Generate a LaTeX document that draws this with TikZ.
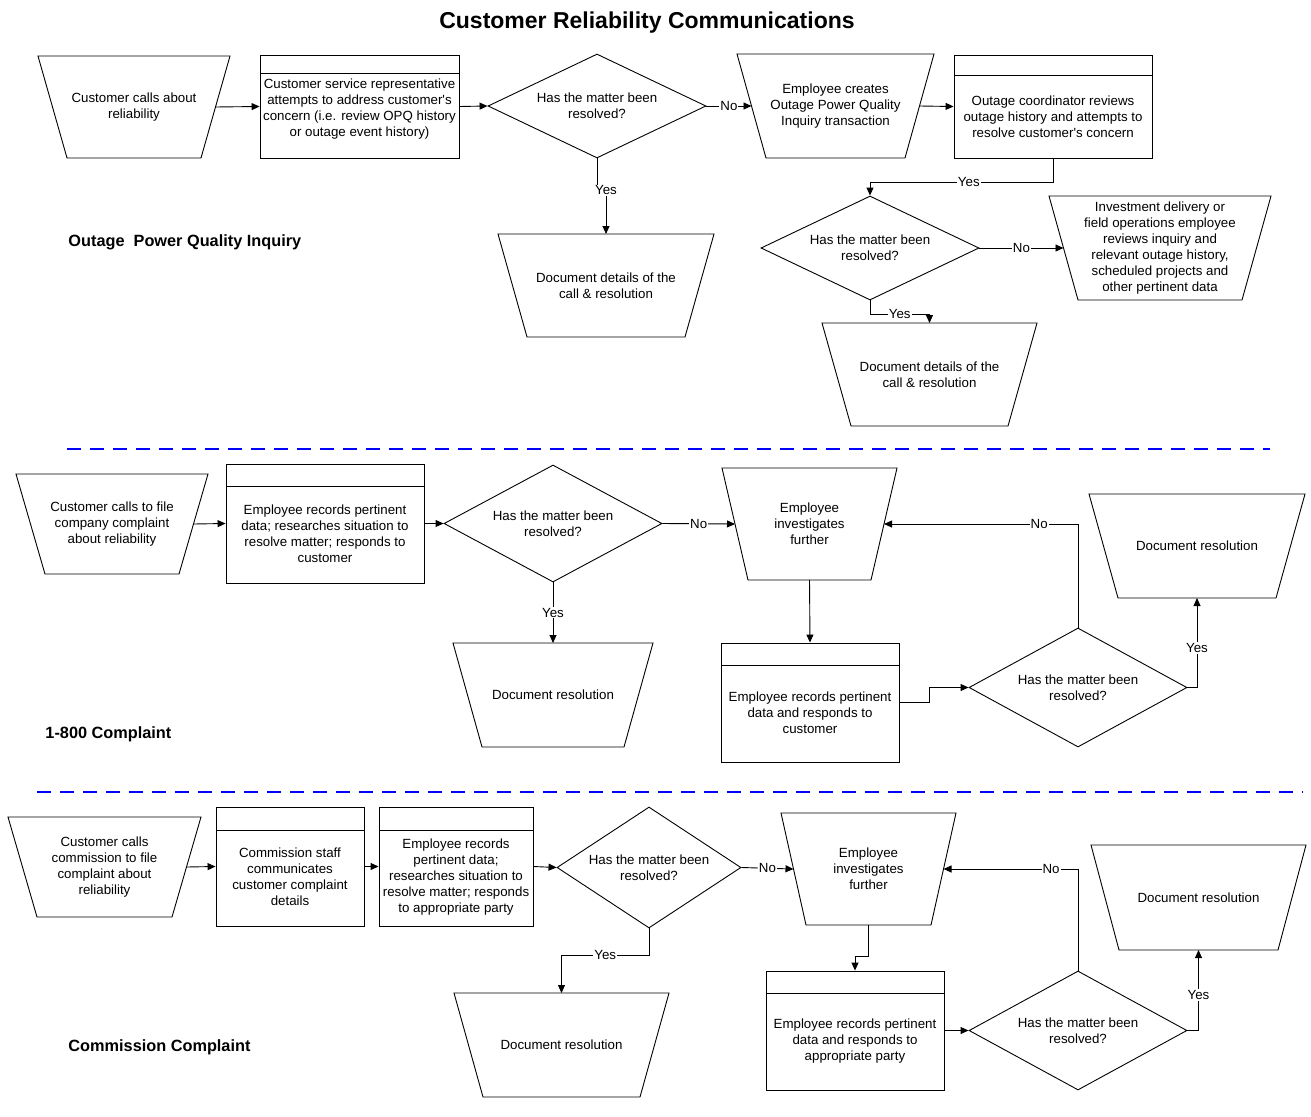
\documentclass[tikz,border=0pt]{standalone}
\usepackage{fontspec}
\setmainfont{Liberation Sans}[Ligatures=TeXOff]
\usetikzlibrary{shapes.geometric, arrows.meta}
\newcommand{\hdrstrut}{\rule{0pt}{30.5pt}} % pushes text below the header bar

\tikzset{
  base/.style={font=\fontsize{13.3}{16}\selectfont, align=center},
  % manual operation: node is the mid-height body, slanted sides drawn around it
  trap/.style={base, rectangle, inner sep=1pt, outer sep=0pt,
    append after command={\pgfextra{\draw ([xshift=-#1]\tikzlastnode.north west) -- ([xshift=#1]\tikzlastnode.north east) -- ([xshift=-#1]\tikzlastnode.south east) -- ([xshift=#1]\tikzlastnode.south west) -- cycle;}}},
  trap/.default=14.5pt,
  procbox/.style={base, draw, rectangle, inner sep=2pt,
    path picture={\draw ([yshift=-#1]path picture bounding box.north west) -- ([yshift=-#1]path picture bounding box.north east);}},
  procbox/.default=22pt,
  decision/.style={base, draw, diamond, aspect=2, inner sep=0pt},
  lbl/.style={base, fill=white, inner sep=1pt},
  arr/.style={-{Triangle[length=8pt,width=7pt]}},
  sectitle/.style={font=\fontsize{16.3}{20}\selectfont\bfseries, anchor=west, inner sep=0pt},
  divider/.style={blue, line width=2pt, dash pattern=on 14pt off 9pt},
}

\begin{document}
\begin{tikzpicture}[x=1pt, y=-1pt, line width=0.9pt]
  \useasboundingbox (0,0) rectangle (1311,1116);

  \node[font=\fontsize{23}{28}\selectfont\bfseries] (title) at (647,23) {Customer Reliability Communications};

  % Outage Power Quality Inquiry
  \node[trap, minimum width=163, minimum height=102] (t1) at (134,107) {Customer calls about\\reliability};
  \node[procbox=18pt, minimum width=199, minimum height=103] (r1) at (359.5,106.5) {\rule{0pt}{15.5pt}Customer service representative\\attempts to address customer's\\concern (i.e. review OPQ history\\or outage event history)};
  \node[decision, minimum width=218, minimum height=104] (d1) at (597,106) {Has the matter been\\resolved?};
  \node[trap, minimum width=168, minimum height=104] (t2) at (835.5,106) {Employee creates\\Outage Power Quality\\Inquiry transaction};
  \node[procbox=20pt, minimum width=198, minimum height=103] (r2) at (1053,106.5) {\hdrstrut Outage coordinator reviews\\outage history and attempts to\\resolve customer's concern};
  \node[trap, minimum width=187, minimum height=103] (t3) at (606,285.5) {Document details of the\\call \& resolution};
  \node[decision, minimum width=218, minimum height=104] (d2) at (870,248) {Has the matter been\\resolved?};
  \node[trap, minimum width=193, minimum height=104] (t4) at (1160,248) {Investment delivery or\\field operations employee\\reviews inquiry and\\relevant outage history,\\scheduled projects and\\other pertinent data};
  \node[trap, minimum width=186, minimum height=103] (t5) at (929.5,374.5) {Document details of the\\call \& resolution};
  \node[sectitle] (s1) at (68,242) {Outage\ \ Power Quality Inquiry};

  \draw[arr] (t1.east) -- (r1.west);
  \draw[arr] (r1.east) -- (d1.west);
  \draw[arr] (d1.east) -- node[lbl]{No} (t2.west);
  \draw[arr] (t2.east) -- (r2.west);
  \draw[arr] (d1.south) -- ++(0,32) -| node[lbl]{Yes} (t3.north);
  \draw[arr] (r2.south) -- ++(0,24) -| node[lbl,pos=0.23]{Yes} (d2.north);
  \draw[arr] (d2.east) -- node[lbl]{No} (t4.west);
  \draw[arr] (d2.south) -- ++(0,14) -| node[lbl,pos=0.25]{Yes} (t5.north);

  \draw[divider] (67,449) -- (1270,449);

  % 1-800 Complaint
  \node[trap, minimum width=163, minimum height=100] (t6) at (112,524) {Customer calls to file\\company complaint\\about reliability};
  \node[procbox, minimum width=198, minimum height=119] (r3) at (325,523.5) {\hdrstrut Employee records pertinent\\data; researches situation to\\resolve matter; responds to\\customer};
  \node[decision, minimum width=218, minimum height=117] (d3) at (553,523.5) {Has the matter been\\resolved?};
  \node[trap=13pt, minimum width=149, minimum height=112] (t7) at (809.5,524) {Employee\\investigates\\further};
  \node[trap, minimum width=171, minimum height=104] (t8) at (553,695) {Document resolution};
  \node[procbox, minimum width=178, minimum height=119] (r4) at (810,702.5) {\hdrstrut Employee records pertinent\\data and responds to\\customer};
  \node[decision, minimum width=218, minimum height=119] (d4) at (1078,687.5) {Has the matter been\\resolved?};
  \node[trap, minimum width=187, minimum height=104] (t9) at (1197,546) {Document resolution};
  \node[sectitle] (s2) at (45,734) {1-800 Complaint};

  \draw[arr] (t6.east) -- (r3.west);
  \draw[arr] (r3.east) -- (d3.west);
  \draw[arr] (d3.east) -- node[lbl]{No} (t7.west);
  \draw[arr] (d3.south) -- node[lbl]{Yes} (t8.north);
  \draw[arr] (t7.south) -- (r4.north);
  \draw[arr] (r4.east) -- ++(30,0) |- (d4.west);
  \draw[arr] (d4.north) |- node[lbl,pos=0.6]{No} (t7.east);
  \draw[arr] (d4.east) -| node[lbl,pos=0.72]{Yes} (t9.south);

  \draw[divider] (37,792) -- (1303,792);

  % Commission Complaint
  \node[trap, minimum width=164, minimum height=100] (t10) at (104.5,867) {Customer calls\\commission to file\\complaint about\\reliability};
  \node[procbox=23pt, minimum width=148, minimum height=119] (r5) at (290,866.5) {\hdrstrut Commission staff\\communicates\\customer complaint\\details};
  \node[procbox=23pt, minimum width=154, minimum height=119] (r6) at (456,866.5) {\hdrstrut Employee records\\pertinent data;\\researches situation to\\resolve matter; responds\\to appropriate party};
  \node[decision, minimum width=184, minimum height=121] (d5) at (649,867.5) {Has the matter been\\resolved?};
  \node[trap=12.5pt, minimum width=150, minimum height=112] (t11) at (868.5,869) {Employee\\investigates\\further};
  \node[trap, minimum width=186, minimum height=104] (t12) at (561.5,1045) {Document resolution};
  \node[procbox, minimum width=178, minimum height=119] (r7) at (855,1030.5) {\hdrstrut Employee records pertinent\\data and responds to\\appropriate party};
  \node[decision, minimum width=218, minimum height=119] (d6) at (1078,1030.5) {Has the matter been\\resolved?};
  \node[trap=14pt, minimum width=187, minimum height=105] (t13) at (1198.5,897.5) {Document resolution};
  \node[sectitle] (s3) at (68,1047) {Commission Complaint};

  \draw[arr] (t10.east) -- (r5.west);
  \draw[arr] (r5.east) -- (r6.west);
  \draw[arr] (r6.east) -- (d5.west);
  \draw[arr] (d5.east) -- node[lbl]{No} (t11.west);
  \draw[arr] (d5.south) -- ++(0,27) -| node[lbl,pos=0.25]{Yes} (t12.north);
  \draw[arr] (t11.south) -- ++(0,31) -| (r7.north);
  \draw[arr] (r7.east) -- (d6.west);
  \draw[arr] (d6.north) |- node[lbl,pos=0.6]{No} (t11.east);
  \draw[arr] (d6.east) -| node[lbl,pos=0.72]{Yes} (t13.south);
\end{tikzpicture}
\end{document}
